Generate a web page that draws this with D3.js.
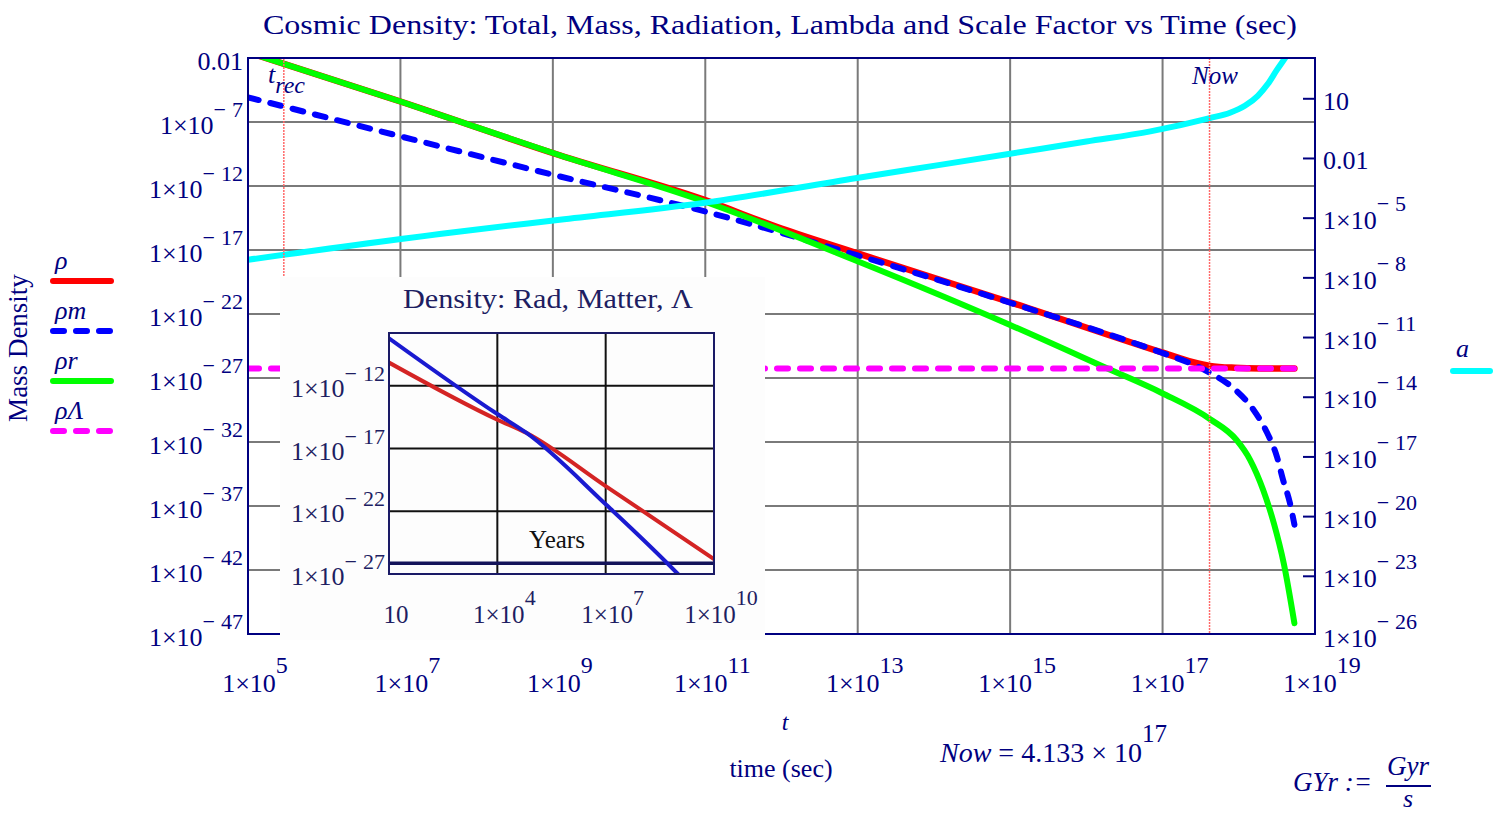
<!DOCTYPE html>
<html>
<head>
<meta charset="utf-8">
<script src="https://cdn.jsdelivr.net/npm/d3@7"></script>
<style>
body { margin: 0; background: #fff; }
svg { display: block; }
text { font-family: "Liberation Serif", "Times New Roman", serif; }
</style>
</head>
<body>
<script>
// values are log10: time in seconds, densities kg/m^3, scale factor a
var tRho   = [5, 7, 9.09, 10.97, 12.0, 12.99, 15.0, 16.99, 17.40, 17.62, 17.95, 18.3, 18.73];
var rho    = [-1.55, -5.4, -9.6, -13.05, -15.33, -17.25, -21.08, -25.0, -25.77, -26.05, -26.2, -26.25, -26.26];
var tRhoM  = [5, 7, 9.09, 10.97, 12.99, 15.0, 16.99, 17.40, 17.62, 17.95, 18.19, 18.37, 18.50, 18.58, 18.67, 18.73];
var rhoM   = [-5.07, -8.12, -11.25, -13.95, -17.41, -21.12, -25.03, -25.94, -26.59, -27.90, -29.46, -31.26, -33.14, -34.94, -36.74, -38.46];
var tRhoR  = [5, 7, 9.09, 10.97, 12.99, 15.0, 16.27, 16.99, 17.62, 17.97, 18.15, 18.32, 18.46, 18.59, 18.73];
var rhoR   = [-1.55, -5.4, -9.6, -13.17, -17.86, -22.86, -26.24, -28.17, -30.2, -31.84, -33.41, -35.75, -38.35, -41.48, -46.16];
var tLam   = [5, 18.73];
var rhoLam = [-26.26, -26.26];
var tA     = [5, 7.65, 9.09, 10.97, 12.99, 14.08, 15.0, 16.0, 16.84, 17.62, 17.885, 18.08, 18.25, 18.38, 18.5, 18.61, 18.7];
var aVals  = [-7.09, -5.73, -5.08, -4.24, -2.98, -2.32, -1.76, -1.15, -0.64, 0.03, 0.30, 0.65, 1.15, 1.74, 2.45, 3.06, 3.56];

var xTickExp     = [5, 7, 9, 11, 13, 15, 17, 19];
var leftTickExp  = [-2, -7, -12, -17, -22, -27, -32, -37, -42, -47];
var rightTickExp = [1, -2, -5, -8, -11, -14, -17, -20, -23, -26];

var tRec = 5.47;
var nowSec = 4.133e17;

// inset: log10 years vs log10 density
var yrBlue = [1, 4, 4.81, 7, 9.0, 9.2];
var inBlue = [-8.21, -14.25, -15.76, -21.44, -27.0, -27.6];
var yrRed  = [1, 4, 4.81, 7, 10];
var inRed  = [-10.15, -14.70, -15.76, -19.99, -25.81];
var yrLam  = [1, 10];
var inLam  = [-26.15, -26.15];
var inXTickExp = [1, 4, 7, 10];
var inYTickExp = [-12, -17, -22, -27];

var navy = "#000080";
var p10 = function(e){ return Math.pow(10, e) };

var svg = d3.select("body").append("svg")
    .attr("width", 1512)
    .attr("height", 815);

var x  = d3.scaleLog().domain([1e5, 1e19]).range([248, 1315]);
var yL = d3.scaleLog().domain([1e-47, 1e-2]).range([634, 58]);
var yR = d3.scaleLog().domain([p10(-25.9), p10(3.05)]).range([634, 58]);

function curve(xs, ys, ts, vs) {
    return d3.line().curve(d3.curveMonotoneX)
        .x(function(d, i){ return xs(p10(ts[i])) })
        .y(function(d, i){ return ys(p10(vs[i])) })(vs);
}

// label like 1x10^-7, 10, 0.01
function expLabel(sel, e, supSize, supDy) {
    if (e == 1) { sel.append("tspan").text("10"); return; }
    if (e == -2) { sel.append("tspan").text("0.01"); return; }
    sel.append("tspan").text("1\u00d710");
    if (e < 0) {
        sel.append("tspan").attr("dy", supDy).attr("font-size", supSize).text("\u2212");
        sel.append("tspan").attr("dx", 6).attr("font-size", supSize).text(-e);
    } else {
        sel.append("tspan").attr("dy", supDy).attr("font-size", supSize).text(e);
    }
}

svg.append("text")
    .attr("x", 263).attr("y", 34)
    .attr("font-size", 27)
    .attr("fill", navy)
    .attr("textLength", 1034)
    .attr("lengthAdjust", "spacingAndGlyphs")
    .text("Cosmic Density: Total, Mass, Radiation, Lambda and Scale Factor vs Time (sec)");

// grid
var grid = svg.append("g").attr("stroke", "#7a7a7a").attr("stroke-width", 2);
grid.selectAll(".vg").data(xTickExp.slice(1, -1)).enter().append("line")
    .attr("x1", function(d){ return x(p10(d)) }).attr("x2", function(d){ return x(p10(d)) })
    .attr("y1", 58).attr("y2", 634);
grid.selectAll(".hg").data(leftTickExp.slice(1, -1)).enter().append("line")
    .attr("x1", 248).attr("x2", 1315)
    .attr("y1", function(d){ return yL(p10(d)) }).attr("y2", function(d){ return yL(p10(d)) });

svg.append("clipPath").attr("id", "plotclip").append("rect")
    .attr("x", 248).attr("y", 58).attr("width", 1067).attr("height", 576);

var plot = svg.append("g").attr("clip-path", "url(#plotclip)")
    .attr("fill", "none").attr("stroke-linecap", "round").attr("stroke-linejoin", "round");

plot.append("path").attr("d", curve(x, yL, tRho, rho))
    .attr("stroke", "#ff0000").attr("stroke-width", 6.5);
plot.append("path").attr("d", curve(x, yL, tRhoM, rhoM))
    .attr("stroke", "#0000ff").attr("stroke-width", 6).attr("stroke-dasharray", "11,12");
plot.append("path").attr("d", curve(x, yL, tRhoR, rhoR))
    .attr("stroke", "#00ff00").attr("stroke-width", 6);
plot.append("path").attr("d", curve(x, yL, tLam, rhoLam))
    .attr("stroke", "#ff00ff").attr("stroke-width", 6).attr("stroke-dasharray", "11,12");
plot.append("path").attr("d", curve(x, yR, tA, aVals))
    .attr("stroke", "#00ffff").attr("stroke-width", 6);

// t_rec and Now markers
var marks = svg.append("g").attr("stroke", "#ff6a6a").attr("stroke-width", 1.5).attr("stroke-dasharray", "2,1");
marks.append("line").attr("x1", x(p10(tRec))).attr("x2", x(p10(tRec))).attr("y1", 58).attr("y2", 634);
marks.append("line").attr("x1", x(nowSec)).attr("x2", x(nowSec)).attr("y1", 58).attr("y2", 634);

var trec = svg.append("text").attr("x", 268).attr("y", 83).attr("fill", navy)
    .attr("font-size", 26).attr("font-style", "italic");
trec.append("tspan").text("t");
trec.append("tspan").attr("dy", 10).attr("font-size", 24).text("rec");
svg.append("text").attr("x", 1192).attr("y", 84).attr("fill", navy)
    .attr("font-size", 25).attr("font-style", "italic").text("Now");

// frame
svg.append("rect").attr("x", 248).attr("y", 58).attr("width", 1067).attr("height", 576)
    .attr("fill", "none").attr("stroke", navy).attr("stroke-width", 2);

// right axis ticks
svg.append("g").selectAll("line").data(rightTickExp.filter(function(d){ return yR(p10(d)) < 630 }))
    .enter().append("line")
    .attr("x1", 1303).attr("x2", 1315)
    .attr("y1", function(d){ return yR(p10(d)) }).attr("y2", function(d){ return yR(p10(d)) })
    .attr("stroke", navy).attr("stroke-width", 2);

// axis labels
svg.append("g").selectAll("text").data(leftTickExp).enter().append("text")
    .attr("x", 243).attr("y", function(d){ return yL(p10(d)) + 12 })
    .attr("text-anchor", "end").attr("font-size", 26).attr("fill", navy)
    .each(function(d){ expLabel(d3.select(this), d, 22, -17) });

svg.append("g").selectAll("text").data(rightTickExp).enter().append("text")
    .attr("x", 1323).attr("y", function(d){ return yR(p10(d)) + 11 })
    .attr("font-size", 26).attr("fill", navy)
    .each(function(d){ expLabel(d3.select(this), d, 22, -18) });

svg.append("g").selectAll("text").data(xTickExp).enter().append("text")
    .attr("x", function(d){ return x(p10(d)) + 7 }).attr("y", 692)
    .attr("text-anchor", "middle").attr("font-size", 26).attr("fill", navy)
    .each(function(d){ expLabel(d3.select(this), d, 24, -19) });

svg.append("text").attr("x", 785).attr("y", 730).attr("text-anchor", "middle")
    .attr("font-size", 24).attr("font-style", "italic").attr("fill", navy).text("t");
svg.append("text").attr("x", 781).attr("y", 777).attr("text-anchor", "middle")
    .attr("font-size", 26).attr("fill", navy).text("time (sec)");

var nowTxt = svg.append("text").attr("x", 940).attr("y", 762).attr("font-size", 28).attr("fill", navy);
nowTxt.append("tspan").attr("font-style", "italic").text("Now");
nowTxt.append("tspan").text(" = 4.133 \u00d7 10");
nowTxt.append("tspan").attr("dy", -20).attr("font-size", 25).text("17");

svg.append("text").attr("x", 1293).attr("y", 791).attr("font-size", 27).attr("fill", navy)
    .attr("font-style", "italic").text("GYr :=");
svg.append("text").attr("x", 1408).attr("y", 775).attr("text-anchor", "middle").attr("font-size", 27)
    .attr("fill", navy).attr("font-style", "italic").text("Gyr");
svg.append("line").attr("x1", 1386).attr("x2", 1431).attr("y1", 786).attr("y2", 786)
    .attr("stroke", navy).attr("stroke-width", 2);
svg.append("text").attr("x", 1408).attr("y", 807).attr("text-anchor", "middle").attr("font-size", 26)
    .attr("fill", navy).attr("font-style", "italic").text("s");

// legends
svg.append("text").attr("transform", "translate(27,348) rotate(-90)")
    .attr("text-anchor", "middle").attr("font-size", 27).attr("fill", navy).text("Mass Density");

var legend = [
    {name: "\u03c1", color: "#ff0000", dash: null, y: 281},
    {name: "\u03c1m", color: "#0000ff", dash: "11,12", y: 331},
    {name: "\u03c1r", color: "#00ff00", dash: null, y: 381},
    {name: "\u03c1\u039b", color: "#ff00ff", dash: "11,12", y: 431}
];
var lg = svg.append("g").selectAll("g").data(legend).enter().append("g");
lg.append("text").attr("x", 55).attr("y", function(d){ return d.y - 12 })
    .attr("font-size", 26).attr("font-style", "italic").attr("fill", navy)
    .text(function(d){ return d.name });
lg.append("line").attr("x1", 53).attr("x2", 111)
    .attr("y1", function(d){ return d.y }).attr("y2", function(d){ return d.y })
    .attr("stroke", function(d){ return d.color }).attr("stroke-width", 6)
    .attr("stroke-linecap", "round").attr("stroke-dasharray", function(d){ return d.dash });

svg.append("text").attr("x", 1456).attr("y", 357).attr("font-size", 26)
    .attr("font-style", "italic").attr("fill", navy).text("a");
svg.append("line").attr("x1", 1453).attr("x2", 1490).attr("y1", 371).attr("y2", 371)
    .attr("stroke", "#00ffff").attr("stroke-width", 6).attr("stroke-linecap", "round");

// inset picture
var inset = svg.append("g");
inset.append("rect").attr("x", 280).attr("y", 277).attr("width", 485).attr("height", 363)
    .attr("fill", "#fdfdfd");

var ix = d3.scaleLog().domain([10, 1e10]).range([389, 714]);
var iy = d3.scaleLog().domain([1e-27, p10(-7.79)]).range([574, 333]);
var inkColor = "#1e1e62";

inset.append("text").attr("x", 548).attr("y", 308).attr("text-anchor", "middle")
    .attr("font-size", 27).attr("fill", inkColor).attr("textLength", 290)
    .attr("lengthAdjust", "spacingAndGlyphs").text("Density: Rad, Matter, \u039b");

var ig = inset.append("g").attr("stroke", "#111").attr("stroke-width", 2);
ig.selectAll(".v").data(inXTickExp.slice(1, -1)).enter().append("line")
    .attr("x1", function(d){ return ix(p10(d)) }).attr("x2", function(d){ return ix(p10(d)) })
    .attr("y1", 333).attr("y2", 574);
ig.selectAll(".h").data(inYTickExp.slice(0, -1)).enter().append("line")
    .attr("x1", 389).attr("x2", 714)
    .attr("y1", function(d){ return iy(p10(d)) }).attr("y2", function(d){ return iy(p10(d)) });

inset.append("clipPath").attr("id", "insetclip").append("rect")
    .attr("x", 389).attr("y", 333).attr("width", 325).attr("height", 241);
var ic = inset.append("g").attr("clip-path", "url(#insetclip)").attr("fill", "none");
ic.append("path").attr("d", curve(ix, iy, yrLam, inLam)).attr("stroke", "#14145a").attr("stroke-width", 3.5);
ic.append("path").attr("d", curve(ix, iy, yrRed, inRed)).attr("stroke", "#d42424").attr("stroke-width", 4);
ic.append("path").attr("d", curve(ix, iy, yrBlue, inBlue)).attr("stroke", "#1a1ad0").attr("stroke-width", 4);

inset.append("rect").attr("x", 389).attr("y", 333).attr("width", 325).attr("height", 241)
    .attr("fill", "none").attr("stroke", "#1a1a66").attr("stroke-width", 2);

inset.append("text").attr("x", 557).attr("y", 548).attr("text-anchor", "middle")
    .attr("font-size", 25).attr("fill", "#111").text("Years");

inset.append("g").selectAll("text").data(inYTickExp).enter().append("text")
    .attr("x", 385).attr("y", function(d){ return iy(p10(d)) + 11 })
    .attr("text-anchor", "end").attr("font-size", 26).attr("fill", inkColor)
    .each(function(d){ expLabel(d3.select(this), d, 22, -16) });

inset.append("g").selectAll("text").data(inXTickExp).enter().append("text")
    .attr("x", function(d){ return ix(p10(d)) + 7 }).attr("y", 623)
    .attr("text-anchor", "middle").attr("font-size", 25).attr("fill", inkColor)
    .each(function(d){ expLabel(d3.select(this), d, 22, -18) });
</script>
</body>
</html>
